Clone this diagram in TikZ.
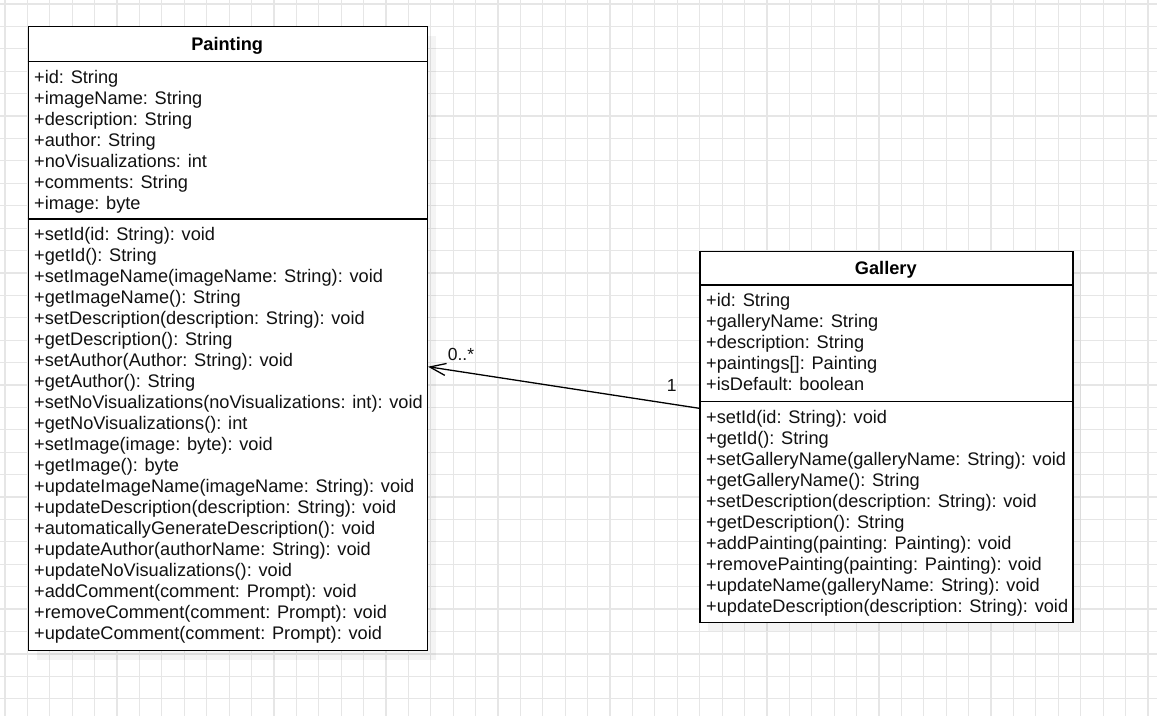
\documentclass[tikz,border=0pt]{standalone}
\usepackage{fontspec}
\setmainfont{Liberation Sans}
\usetikzlibrary{arrows.meta}
\definecolor{gridc}{HTML}{E6E6E6}
\definecolor{txt}{HTML}{111111}
\tikzset{
  gridline/.style={draw=gridc, line width=1.2pt},
  classbox/.style={draw=black, line width=1.3pt, fill=white, rectangle, inner sep=0pt, anchor=north west},
  shadowbox/.style={fill=black, fill opacity=0.045, draw=none},
  sepline/.style={draw=black, line width=1.3pt},
  member/.style={anchor=base west, inner sep=0pt, text=txt, font=\fontsize{18.2}{21}\selectfont},
  title/.style={anchor=base, inner sep=0pt, text=black, font=\fontsize{18.2}{21}\selectfont\bfseries},
  mult/.style={anchor=base west, inner sep=0pt, text=txt, font=\fontsize{17.5}{21}\selectfont},
  assoc/.style={draw=black, line width=1.3pt, -{Straight Barb[length=16pt,width=12pt]}}
}
\begin{document}
\begin{tikzpicture}[x=1pt,y=-1pt]
\useasboundingbox (0,0) rectangle (1157,716);
\fill[white] (0,0) rectangle (1157,716);
% grid
\foreach \k in {0,...,51} \draw[gridline] ({5+22.41*\k},0) -- ({5+22.41*\k},716);
\foreach \k in {0,...,31} \draw[gridline] (0,{4+22.41*\k}) -- (1157,{4+22.41*\k});
% shadows
\fill[shadowbox] (37,36) rectangle (436,660);
\fill[shadowbox] (708.3,260) rectangle (1081.3,631);
% boxes
\node[classbox, minimum width=399pt, minimum height=624pt] (painting) at (27.7,26) {};
\node[classbox, minimum width=373pt, minimum height=371pt] (gallery) at (699.3,250.7) {};
% separators
\coordinate (p1) at (0,61.7);
\coordinate (p2) at (0,219);
\coordinate (g1) at (0,285);
\coordinate (g2) at (0,401.7);
\draw[sepline] (painting.west |- p1) -- (painting.east |- p1);
\draw[sepline] (painting.west |- p2) -- (painting.east |- p2);
\draw[sepline] (gallery.west |- g1) -- (gallery.east |- g1);
\draw[sepline] (gallery.west |- g2) -- (gallery.east |- g2);
% titles
\node[title] (ptitle) at (227.2,50.3) {Painting};
\node[title] (gtitle) at (885.8,274.3) {Gallery};
% Painting attributes
\foreach \t [count=\i from 0] in {
{+id: String},
{+imageName: String},
{+description: String},
{+author: String},
{+noVisualizations: int},
{+comments: String},
{+image: byte}}
\node[member] (pa\i) at (34,{83.3+21*\i}) {\t};
% Painting methods
\foreach \t [count=\i from 0] in {
{+setId(id: String): void},
{+getId(): String},
{+setImageName(imageName: String): void},
{+getImageName(): String},
{+setDescription(description: String): void},
{+getDescription(): String},
{+setAuthor(Author: String): void},
{+getAuthor(): String},
{+setNoVisualizations(noVisualizations: int): void},
{+getNoVisualizations(): int},
{+setImage(image: byte): void},
{+getImage(): byte},
{+updateImageName(imageName: String): void},
{+updateDescription(description: String): void},
{+automaticallyGenerateDescription(): void},
{+updateAuthor(authorName: String): void},
{+updateNoVisualizations(): void},
{+addComment(comment: Prompt): void},
{+removeComment(comment: Prompt): void},
{+updateComment(comment: Prompt): void}}
\node[member] (pm\i) at (34,{240.3+21*\i}) {\t};
% Gallery attributes
\foreach \t [count=\i from 0] in {
{+id: String},
{+galleryName: String},
{+description: String},
{+paintings[]: Painting},
{+isDefault: boolean}}
\node[member] (ga\i) at (706,{306.5+21*\i}) {\t};
% Gallery methods
\foreach \t [count=\i from 0] in {
{+setId(id: String): void},
{+getId(): String},
{+setGalleryName(galleryName: String): void},
{+getGalleryName(): String},
{+setDescription(description: String): void},
{+getDescription(): String},
{+addPainting(painting: Painting): void},
{+removePainting(painting: Painting): void},
{+updateName(galleryName: String): void},
{+updateDescription(description: String): void}}
\node[member] (gm\i) at (706,{423+21*\i}) {\t};
% association
\coordinate (ay1) at (0,408.3);
\coordinate (ay2) at (0,366.7);
\draw[assoc] (gallery.west |- ay1) -- (painting.east |- ay2);
\node[mult] (m1) at (447.7,360.7) {0..*};
\node[mult] (m2) at (666.7,391.7) {1};
\end{tikzpicture}
\end{document}
